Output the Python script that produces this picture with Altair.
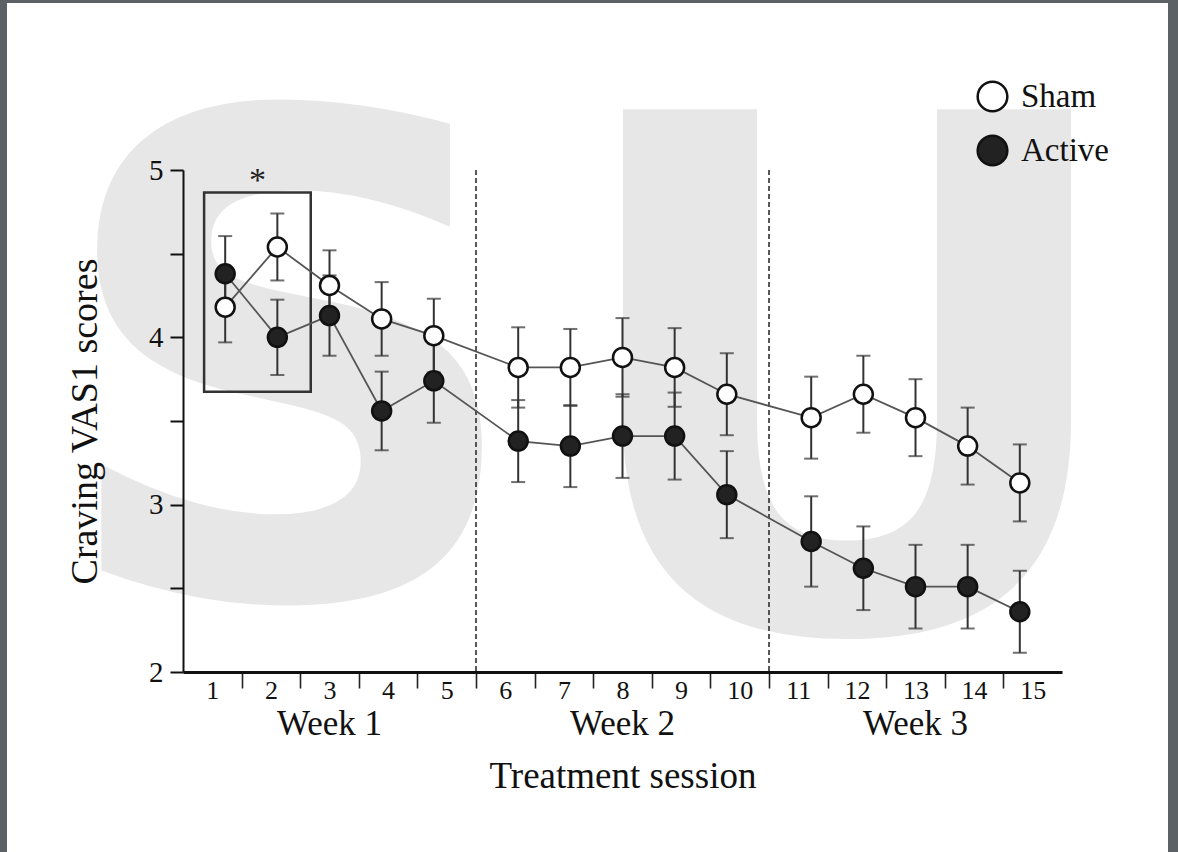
import altair as alt
import pandas as pd

# ---------------- data ----------------
sessions = list(range(1, 16))
week_of_session = [1] * 5 + [2] * 5 + [3] * 5
sham_mean = [4.18, 4.54, 4.31, 4.11, 4.01, 3.82, 3.82, 3.88, 3.82, 3.66, 3.52, 3.66, 3.52, 3.35, 3.13]
sham_sem = [0.21, 0.20, 0.21, 0.22, 0.22, 0.24, 0.23, 0.235, 0.235, 0.245, 0.245, 0.23, 0.23, 0.23, 0.23]
active_mean = [4.38, 4.00, 4.13, 3.56, 3.74, 3.38, 3.35, 3.41, 3.41, 3.06, 2.78, 2.62, 2.51, 2.51, 2.36]
active_sem = [0.225, 0.225, 0.24, 0.235, 0.25, 0.245, 0.245, 0.25, 0.26, 0.26, 0.27, 0.25, 0.25, 0.25, 0.245]
groups = ["Sham", "Active"]
week_names = ["Week 1", "Week 2", "Week 3"]
week_bounds = [5, 10]
y_tick_values = [2, 2.5, 3, 3.5, 4, 4.5, 5]
box_x = [0.36, 2.18]
box_y = [3.675, 4.865]
star_x = [1.27]
star_y = [4.875]
watermark = ["S", "U"]

# ---------------- layout helpers ----------------
FONT = "Liberation Serif"
W, H = 879, 502
PAD = {"left": 183, "top": 170, "right": 116, "bottom": 180}
MARGIN, STEP = 0.72, 0.89  # position of sessions inside each week block

rows = []
for g, means, sems in [("Sham", sham_mean, sham_sem), ("Active", active_mean, active_sem)]:
    for s, w, m, e in zip(sessions, week_of_session, means, sems):
        k = (s - 1) % 5
        rows.append(dict(group=g, session=s, pos=5 * (w - 1) + MARGIN + STEP * k,
                         mean=m, lo=m - e, hi=m + e))
df = pd.DataFrame(rows)

weeks_df = pd.DataFrame({"name": week_names, "wx": [5 * i + 2.5 for i in range(len(week_names))]})
bounds_df = pd.DataFrame({"b": week_bounds})
box_df = pd.DataFrame({"x1": [box_x[0]], "x2": [box_x[1]], "y1": [box_y[0]], "y2": [box_y[1]]})
star_df = pd.DataFrame({"sx": star_x, "sy": star_y, "t": ["*"]})
one = pd.DataFrame({"a": [0]})

x_ticks = [i + 0.5 for i in range(15)] + list(range(1, 15))
x_scale = alt.Scale(domain=[0, 15], nice=False, zero=False)
y_scale = alt.Scale(domain=[2, 5], nice=False, zero=False)

x_axis = alt.Axis(
    values=x_ticks,
    labelExpr="datum.value % 1 === 0 ? '' : format(datum.value + 0.5, 'd')",
    tickOpacity={"condition": {"test": "datum.value % 1 === 0", "value": 1}, "value": 0},
    tickSize=16, tickWidth=1.6, tickColor="#222",
    domainWidth=3, domainColor="#111",
    labelFont=FONT, labelFontSize=26, labelColor="#111", labelPadding=-11,
    labelOverlap=False, labelFlush=False, grid=False,
    title="Treatment session", titleFont=FONT, titleFontSize=37,
    titleFontWeight="normal", titleColor="#111", titlePadding=55, zindex=1,
)
y_axis = alt.Axis(
    values=y_tick_values,
    labelExpr="datum.value % 1 === 0 ? format(datum.value, 'd') : ''",
    tickSize=13, tickWidth=2, tickColor="#111",
    domainWidth=2, domainColor="#111",
    labelFont=FONT, labelFontSize=29, labelColor="#111", labelPadding=7,
    labelOverlap=False, labelFlush=False, grid=False,
    title="Craving VAS1 scores", titleFont=FONT, titleFontSize=38,
    titleFontWeight="normal", titleColor="#111", titlePadding=44, zindex=1,
)


def X(field):
    return alt.X(field, type="quantitative", scale=x_scale, axis=x_axis)


def Y(field):
    return alt.Y(field, type="quantitative", scale=y_scale, axis=y_axis)


# ---------------- layers ----------------
frame = alt.Chart(one).mark_rect(color="white").encode(
    x=alt.value(-176), x2=alt.value(985), y=alt.value(-167), y2=alt.value(682)
)

wm_s = alt.Chart(one).mark_text(
    text=watermark[0], font="DejaVu Sans", fontWeight="bold", fontSize=669,
    color="#e7e7e7", align="center", baseline="alphabetic"
).encode(x=alt.value(107), y=alt.value(426))

wm_u = alt.Chart(one).mark_text(
    text=watermark[1], font="DejaVu Sans", fontWeight="bold", fontSize=713,
    color="#e7e7e7", align="center", baseline="alphabetic"
).encode(x=alt.value(664), y=alt.value(459))

dashes = alt.Chart(bounds_df).mark_rule(color="#222", strokeWidth=1.5, strokeDash=[5, 3]).encode(
    x=X("b")
)

box = alt.Chart(box_df).mark_rect(fillOpacity=0, stroke="#333", strokeWidth=2.5).encode(
    x=X("x1"), x2="x2", y=Y("y1"), y2="y2"
)

star = alt.Chart(star_df).mark_text(
    font=FONT, fontSize=34, color="#222", align="center", baseline="alphabetic"
).encode(x=X("sx"), y=Y("sy"), text="t:N")

err = alt.Chart(df).mark_rule(color="#333", strokeWidth=2).encode(
    x=X("pos"), y=Y("lo"), y2="hi"
)
cap_hi = alt.Chart(df).mark_tick(orient="horizontal", size=14, thickness=2, color="#333").encode(
    x=X("pos"), y=Y("hi")
)
cap_lo = alt.Chart(df).mark_tick(orient="horizontal", size=14, thickness=2, color="#333").encode(
    x=X("pos"), y=Y("lo")
)

lines = alt.Chart(df).mark_line(color="#555", strokeWidth=1.8).encode(
    x=X("pos"), y=Y("mean"), detail="group:N"
)

points = alt.Chart(df).mark_point(
    shape="circle", filled=True, size=360, stroke="#111", strokeWidth=2.5, opacity=1
).encode(
    x=X("pos"), y=Y("mean"),
    fill=alt.Fill(
        "group:N",
        scale=alt.Scale(domain=groups, range=["white", "#222"]),
        legend=alt.Legend(
            title=None, orient="none", legendX=793, legendY=-90,
            symbolType="circle", symbolSize=880, symbolStrokeColor="#111",
            symbolStrokeWidth=2.5, symbolOpacity=1,
            labelFont=FONT, labelFontSize=33, labelColor="#111",
            labelOffset=12, rowPadding=13, padding=0, zindex=1,
        ),
    ),
)

weeks = alt.Chart(weeks_df).mark_text(
    font=FONT, fontSize=35, color="#111", align="center", baseline="alphabetic"
).encode(x=X("wx"), y=alt.value(565), text="name:N")

chart = alt.layer(
    frame, wm_s, wm_u, dashes, box, err, cap_hi, cap_lo, lines, points, star, weeks
).properties(
    width=W, height=H, autosize=alt.AutoSizeParams(type="none"), padding=PAD
).configure(
    background="#5b6165"
).configure_view(
    strokeWidth=0
)

chart.save("out.html", embed_options={"renderer": "svg", "actions": False})
